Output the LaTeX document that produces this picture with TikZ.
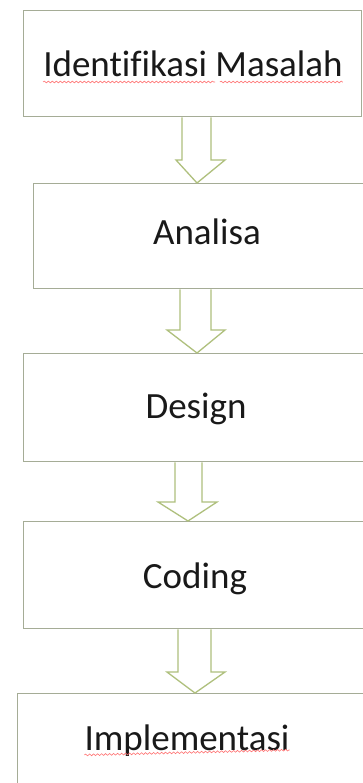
\documentclass[tikz,border=0pt]{standalone}
\usepackage{fontspec}
\setmainfont[RawFeature=-liga]{Carlito}
\usetikzlibrary{decorations.pathmorphing}
\definecolor{boxline}{RGB}{165,172,150}
\definecolor{arrline}{RGB}{175,192,125}
\definecolor{txt}{RGB}{25,25,25}
\begin{document}
\begin{tikzpicture}[x=1pt,y=-1pt,
  stagebox/.style={draw=boxline, line width=1.4pt, fill=white, anchor=north west, inner sep=0pt},
  stagelabel/.style={anchor=base, inner sep=0pt, font=\fontsize{37}{40}\selectfont, text=txt},
  blockarrow/.style={draw=arrline, line width=1.3pt, fill=white, line join=miter},
  squiggle/.style={draw=red!55, line width=0.6pt, decorate, decoration={snake, segment length=4pt, amplitude=0.9pt}}]
\useasboundingbox (0,0) rectangle (363,783);
\clip (0,0) rectangle (363,783);
\fill[white] (0,0) rectangle (363,783);
% boxes
\node[stagebox, minimum width=338pt, minimum height=106pt] (b1) at (23,10) {};
\node[stagebox, minimum width=340pt, minimum height=105pt] (b2) at (33,183) {};
\node[stagebox, minimum width=350pt, minimum height=108pt] (b3) at (23,353) {};
\node[stagebox, minimum width=350pt, minimum height=107pt] (b4) at (23,521) {};
\node[stagebox, minimum width=356pt, minimum height=100pt] (b5) at (17,693) {};
% labels
\node[stagelabel] (t1) at (193,77) {Identifikasi Masalah};
\node[stagelabel] (t2) at (207,245) {Analisa};
\node[stagelabel] (t3) at (196,418) {Design};
\node[stagelabel] (t4) at (195,588) {Coding};
\node[stagelabel] (t5) at (187,750) {Implementasi};
% spell-check squiggles
\draw[squiggle] (t1.base west) ++(0,5) -- ++(172,0);
\draw[squiggle] (t1.base east) ++(-123,5) -- ++(123,0);
\draw[squiggle] (t5.base west) ++(0,5) -- (t5.base east) ++(0,5);
% block arrows
\draw[blockarrow] (182,0 |- b1.south) -- (182,160) -- (176,160) -- (197,0 |- b2.north) -- (225,160) -- (211,160) -- (211,0 |- b1.south);
\draw[blockarrow] (180,0 |- b2.south) -- (180,330) -- (167,330) -- (197,0 |- b3.north) -- (225,330) -- (211,330) -- (211,0 |- b2.south);
\draw[blockarrow] (175,0 |- b3.south) -- (175,502) -- (158,502) -- (188,0 |- b4.north) -- (217,502) -- (202,502) -- (202,0 |- b3.south);
\draw[blockarrow] (178,0 |- b4.south) -- (178,672) -- (167,672) -- (195,0 |- b5.north) -- (225,672) -- (211,672) -- (211,0 |- b4.south);
\end{tikzpicture}
\end{document}
